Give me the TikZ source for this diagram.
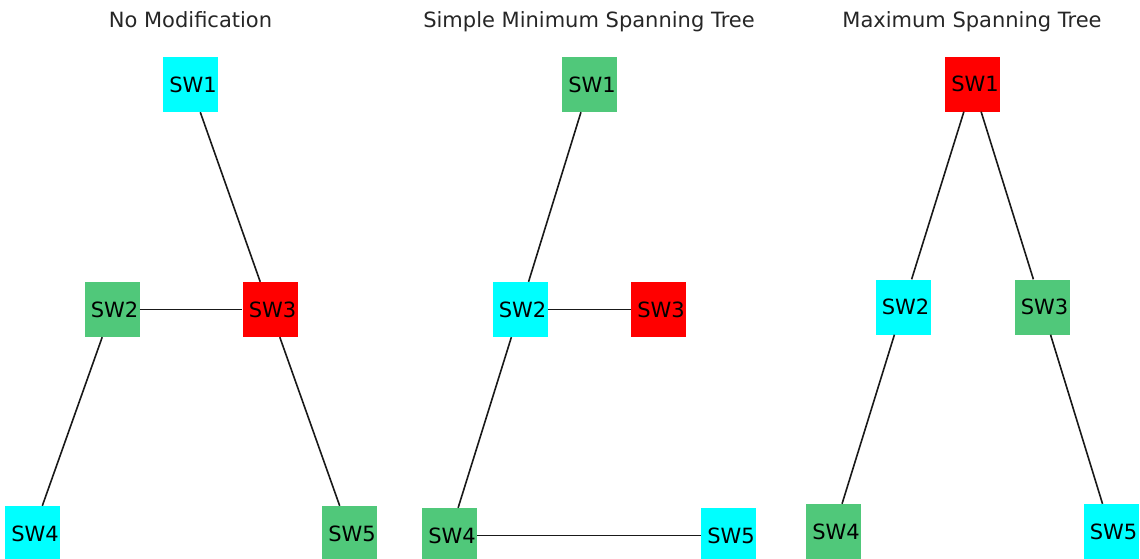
\documentclass[tikz,border=0pt]{standalone}
\usepackage{fontspec}
\setmainfont{DejaVu Sans}
\usepackage{xcolor}
\usepackage{tikz}
\usetikzlibrary{positioning}
\definecolor{swcyan}{RGB}{0,255,255}
\definecolor{swgreen}{RGB}{80,200,122}
\definecolor{swred}{RGB}{255,0,0}

\begin{document}
\begin{tikzpicture}[x=1pt,y=-1pt,font=\fontsize{21}{25}\selectfont,
  sw/.style={rectangle,minimum size=55pt,inner sep=0pt,text=black,
    execute at begin node=\hspace*{5pt}},
  ttl/.style={anchor=base,text=black!85},
  edge/.style={line width=1.6pt,black!90}]
\useasboundingbox (0,0) rectangle (1140,558);
\clip (0,0) rectangle (1140,558);
% panel 1
\node[ttl] (t1) at (190.5,27){No Modification};
\node[sw,fill=swcyan] (a1) at (190.5,84.5){SW1};
\node[sw,fill=swgreen] (a2) at (112,309.5){SW2};
\node[sw,fill=swred] (a3) at (270,309.5){SW3};
\node[sw,fill=swcyan] (a4) at (32.5,533.5){SW4};
\node[sw,fill=swgreen] (a5) at (349.5,533.5){SW5};
\draw[edge] (a1) -- (a3);
\draw[edge] (a2) -- (a3);
\draw[edge] (a2) -- (a4);
\draw[edge] (a3) -- (a5);
% panel 2
\node[ttl] (t2) at (589,27){Simple Minimum Spanning Tree};
\node[sw,fill=swgreen] (b1) at (589.5,84.5){SW1};
\node[sw,fill=swcyan] (b2) at (520,309.5){SW2};
\node[sw,fill=swred] (b3) at (658.5,309.5){SW3};
\node[sw,fill=swgreen] (b4) at (449.5,535.5){SW4};
\node[sw,fill=swcyan] (b5) at (728.5,535.5){SW5};
\draw[edge] (b1) -- (b2);
\draw[edge] (b2) -- (b3);
\draw[edge] (b2) -- (b4);
\draw[edge] (b4) -- (b5);
% panel 3
\node[ttl] (t3) at (972,27){Maximum Spanning Tree};
\node[sw,fill=swred] (c1) at (972.5,84){SW1};
\node[sw,fill=swcyan] (c2) at (903,307){SW2};
\node[sw,fill=swgreen] (c3) at (1042,307){SW3};
\node[sw,fill=swgreen] (c4) at (833.5,531.5){SW4};
\node[sw,fill=swcyan] (c5) at (1111,531.5){SW5};
\draw[edge] (c1) -- (c2);
\draw[edge] (c1) -- (c3);
\draw[edge] (c2) -- (c4);
\draw[edge] (c3) -- (c5);
\end{tikzpicture}
\end{document}
